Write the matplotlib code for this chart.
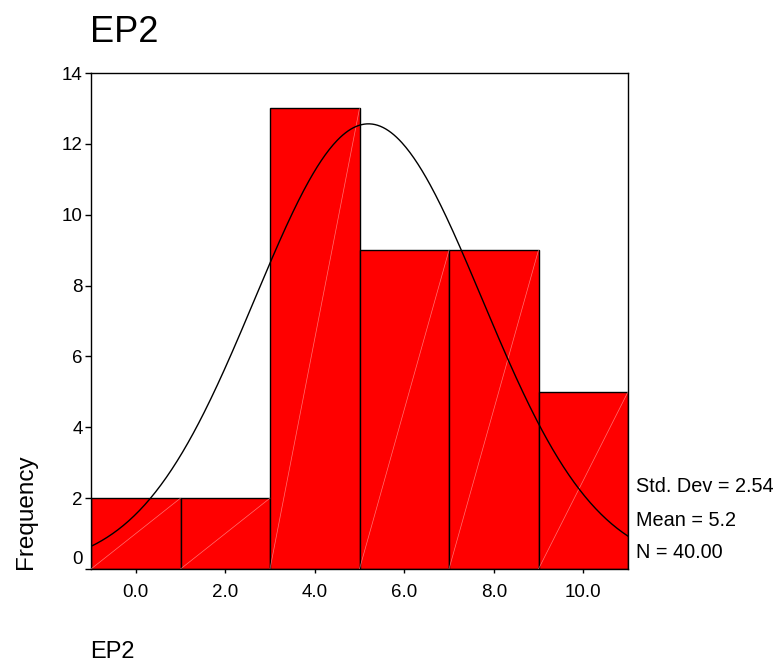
import numpy as np
import matplotlib.pyplot as plt
import matplotlib.transforms as mtransforms

plt.rcParams['font.family'] = ['Liberation Sans', 'DejaVu Sans']

# Histogram of EP2: bin centres and counts
bin_centers = [0.0, 2.0, 4.0, 6.0, 8.0, 10.0]
counts = [2, 2, 13, 9, 9, 5]
bin_width = 2.0
tick_labels = ['0.0', '2.0', '4.0', '6.0', '8.0', '10.0']

std_dev = 2.54
mean = 5.2
n_obs = 40.00

fig = plt.figure(figsize=(7.73, 6.64), dpi=100)
ax = fig.add_axes([91 / 773, 1 - 569 / 664, 537 / 773, 496 / 664])

ax.bar(bin_centers, counts, width=bin_width, color='#ff0000',
       edgecolor='black', linewidth=1.0, zorder=2)

# faint diagonal seams across each bar
for c, h in zip(bin_centers, counts):
    x0, x1 = c - bin_width / 2, c + bin_width / 2
    ax.plot([x0, x1], [0, h], color='#ffc0c0', lw=0.5, alpha=0.6, zorder=3)

# fitted normal curve scaled to counts
xs = np.linspace(bin_centers[0] - bin_width / 2, bin_centers[-1] + bin_width / 2, 400)
scale = sum(counts) * bin_width
ys = scale * np.exp(-0.5 * ((xs - mean) / std_dev) ** 2) / (std_dev * np.sqrt(2 * np.pi))
ax.plot(xs, ys, color='black', lw=1.0, zorder=4)

ax.set_xlim(bin_centers[0] - bin_width / 2, bin_centers[-1] + bin_width / 2)
ax.set_ylim(0, 14)
ax.set_xticks(bin_centers)
ax.set_xticklabels(tick_labels)
ax.set_yticks(range(0, 15, 2))
ax.tick_params(axis='y', length=4, width=1, pad=2, labelsize=13.5)
ax.tick_params(axis='x', length=3, width=1, pad=8, labelsize=13.5)
for s in ax.spines.values():
    s.set_linewidth(1.0)

# lift the zero label off the x axis
zero_lbl = ax.get_yticklabels()[0]
zero_lbl.set_transform(zero_lbl.get_transform() +
                       mtransforms.ScaledTranslation(0, 8 / 72, fig.dpi_scale_trans))

fig.text(90 / 773, 1 - 42 / 664, 'EP2', fontsize=26, ha='left', va='baseline')
fig.text(26 / 773, 1 - 512 / 664, 'Frequency', fontsize=17.5, rotation=90,
         ha='center', va='center')
fig.text(90 / 773, 1 - 658 / 664, 'EP2', fontsize=17, ha='left', va='baseline')

stats = [f'Std. Dev = {std_dev:.2f}', f'Mean = {mean:.1f}', f'N = {n_obs:.2f}']
for i, t in enumerate(stats):
    fig.text(636 / 773, 1 - (487 + 33 * i) / 664, t, fontsize=14.3,
             ha='left', va='center')

fig.savefig('out.png', dpi=100)
